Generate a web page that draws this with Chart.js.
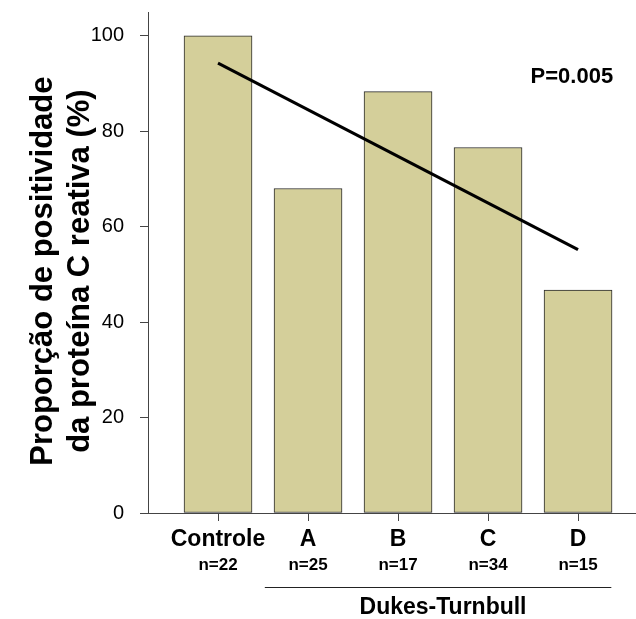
<!DOCTYPE html>
<html>
<head>
<meta charset="utf-8">
<script src="https://cdn.jsdelivr.net/npm/chart.js@4"></script>
<style>
  html, body { margin: 0; padding: 0; background: #ffffff; }
  #wrap { width: 636px; height: 619px; }
</style>
</head>
<body>
<div id="wrap"><canvas id="myChart" width="636" height="619"></canvas></div>
<script>
// Chart data
const categories = ['Controle', 'A', 'B', 'C', 'D'];
const sampleSizes = ['n=22', 'n=25', 'n=17', 'n=34', 'n=15'];
const positivity = [100, 68.0, 88.3, 76.6, 46.7];
const trendX = [0, 4];
const trendValues = [94.3, 55.2];
const yTicks = [0, 20, 40, 60, 80, 100];
const groupLabel = 'Dukes-Turnbull';
const pValue = 'P=0.005';

const FONT = "'Liberation Sans', Arial, sans-serif";
const AXIS_COLOR = '#444444';

// x range so the first bar sits away from the y axis
const X_MIN = -0.778;
const X_MAX = 4.644;

// Puts the ticks on the category positions only
function categoryTicks(scale) {
  scale.ticks = categories.map(function(c, i) { return { value: i }; });
}

// Fixed box size for the stacked bottom axes
function fixHeight(h) {
  return function(scale) {
    scale.height = h;
    scale.paddingLeft = 0;
    scale.paddingRight = 0;
  };
}

// Draws the P value and the line over the Dukes-Turnbull groups
const extrasPlugin = {
  id: 'extras',
  afterDraw: function(chart) {
    const ctx = chart.ctx;
    const x = chart.scales.x;
    const y = chart.scales.y;
    const x3 = chart.scales.x3;
    ctx.save();
    ctx.fillStyle = '#000000';
    ctx.font = 'bold 22px ' + FONT;
    ctx.textAlign = 'right';
    ctx.textBaseline = 'middle';
    ctx.fillText(pValue, x.getPixelForValue(4.39), y.getPixelForValue(91.4));

    ctx.strokeStyle = '#222222';
    ctx.lineWidth = 1;
    const lineY = Math.round(x3.top) + 10.5;
    ctx.beginPath();
    ctx.moveTo(x.getPixelForValue(0.52), lineY);
    ctx.lineTo(x.getPixelForValue(4.37), lineY);
    ctx.stroke();
    ctx.restore();
  }
};

const ctx = document.getElementById('myChart').getContext('2d');

var myChart = new Chart(ctx, {
  type: 'bar',
  data: {
    datasets: [{
      type: 'bar',
      label: 'Proporção',
      data: categories.map(function(c, i) { return { x: i, y: positivity[i] }; }),
      backgroundColor: '#D4CF9A',
      borderColor: '#2a2a2a',
      borderWidth: 1,
      borderSkipped: false,
      barThickness: 68,
      order: 2
    }, {
      type: 'line',
      label: 'Tendência',
      data: trendX.map(function(v, i) { return { x: v, y: trendValues[i] }; }),
      borderColor: '#000000',
      borderWidth: 3,
      pointRadius: 0,
      fill: false,
      order: 1
    }]
  },
  options: {
    responsive: false,
    animation: false,
    layout: { padding: { top: 12, right: 0, bottom: 0, left: 0 } },
    plugins: {
      legend: { display: false },
      tooltip: { enabled: false }
    },
    scales: {
      x: {
        type: 'linear',
        position: 'bottom',
        offset: false,
        min: X_MIN,
        max: X_MAX,
        weight: 1,
        afterBuildTicks: categoryTicks,
        afterFit: fixHeight(40),
        grid: {
          drawOnChartArea: false,
          offset: false,
          color: AXIS_COLOR,
          tickLength: 8
        },
        border: { color: AXIS_COLOR, width: 1 },
        ticks: {
          color: '#000000',
          padding: 5,
          maxRotation: 0,
          autoSkip: false,
          font: { family: FONT, size: 23, weight: 'bold', lineHeight: 1.2 },
          callback: function(value) { return categories[value]; }
        }
      },
      x2: {
        type: 'linear',
        position: 'bottom',
        offset: false,
        min: X_MIN,
        max: X_MAX,
        weight: 2,
        afterBuildTicks: categoryTicks,
        afterFit: fixHeight(24),
        grid: { display: false, drawTicks: false, offset: false },
        border: { display: false },
        ticks: {
          color: '#000000',
          padding: 2,
          maxRotation: 0,
          autoSkip: false,
          font: { family: FONT, size: 17, weight: 'bold', lineHeight: 1.2 },
          callback: function(value) { return sampleSizes[value]; }
        }
      },
      x3: {
        type: 'linear',
        position: 'bottom',
        offset: false,
        min: X_MIN,
        max: X_MAX,
        weight: 3,
        afterBuildTicks: function(scale) { scale.ticks = [{ value: 2.5 }]; },
        afterFit: fixHeight(42),
        grid: { display: false, drawTicks: false, offset: false },
        border: { display: false },
        ticks: {
          color: '#000000',
          padding: 19,
          maxRotation: 0,
          autoSkip: false,
          font: { family: FONT, size: 23, weight: 'bold', lineHeight: 1 },
          callback: function() { return groupLabel; }
        }
      },
      y: {
        min: 0,
        max: 105,
        afterBuildTicks: function(scale) {
          scale.ticks = yTicks.map(function(v) { return { value: v }; });
        },
        afterFit: function(scale) {
          scale.width = 148;
          scale.paddingTop = 0;
          scale.paddingBottom = 0;
        },
        grid: {
          drawOnChartArea: false,
          color: AXIS_COLOR,
          tickLength: 8
        },
        border: { color: AXIS_COLOR, width: 1 },
        ticks: {
          color: '#000000',
          padding: 16,
          font: { family: FONT, size: 20 }
        },
        title: {
          display: true,
          // trailing spaces nudge the centred title a little lower, as in the original
          text: ['Proporção de positividade  ', 'da proteína C reativa (%)  '],
          color: '#000000',
          padding: { top: 25, bottom: 0 },
          font: { family: FONT, size: 31, weight: 'bold', lineHeight: 1.2 }
        }
      }
    }
  },
  plugins: [extrasPlugin]
});
</script>
</body>
</html>
